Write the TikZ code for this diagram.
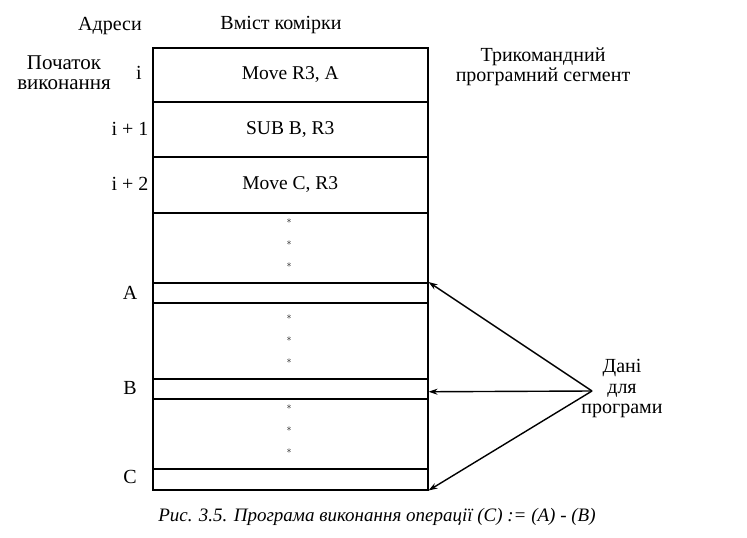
\documentclass[tikz,border=0pt]{standalone}
\usepackage{fontspec}
\setmainfont{Liberation Serif}
\usetikzlibrary{arrows.meta}
\begin{document}
\begin{tikzpicture}[x=1pt,y=-1pt,
  every node/.style={font=\fontsize{20}{21}\selectfont, inner sep=0pt},
  cell/.style={draw, line width=1.5pt, minimum width=275pt, anchor=north west, inner sep=0pt},
  lbl/.style={align=center},
  ast/.style={font=\fontsize{10}{10}\selectfont},
  arr/.style={line width=1.4pt, -{Stealth[length=9pt,width=6pt]}}]
\useasboundingbox (0,0) rectangle (747,538);
% cells
\node[cell, minimum height=54pt, font=\fontsize{19.5}{21}\selectfont] (c1) at (152,47) {Move R3, A};
\node[cell, minimum height=55pt, font=\fontsize{19.5}{21}\selectfont] (c2) at (152,101) {SUB B, R3};
\node[cell, minimum height=56pt, font=\fontsize{19.5}{21}\selectfont] (c3) at (152,156) {Move C, R3};
\node[cell, minimum height=70pt] (d1) at (152,212) {};
\node[cell, minimum height=20pt] (cA) at (152,282) {};
\node[cell, minimum height=76pt] (d2) at (152,302) {};
\node[cell, minimum height=20pt] (cB) at (152,378) {};
\node[cell, minimum height=70pt] (d3) at (152,398) {};
\node[cell, minimum height=21pt] (cC) at (152,468) {};
% asterisks
\node[ast] (s1) at (289,221) {$\ast$};
\node[ast] (s2) at (289,243) {$\ast$};
\node[ast] (s3) at (289,265) {$\ast$};
\node[ast] (s4) at (289,317) {$\ast$};
\node[ast] (s5) at (289,339) {$\ast$};
\node[ast] (s6) at (289,361) {$\ast$};
\node[ast] (s7) at (289,407) {$\ast$};
\node[ast] (s8) at (289,429) {$\ast$};
\node[ast] (s9) at (289,451) {$\ast$};
% headings
\node (adr) at (110,26) {Адреси};
\node (vmist) at (281,25) {Вміст комірки};
\node[lbl, font=\fontsize{21}{20}\selectfont] (poch) at (64,73) {Початок\\виконання};
\node (ai) at (139,73) {i};
\node (ai1) at (130,129) {i + 1};
\node (ai2) at (130,184) {i + 2};
\node (aA) at (130,293) {A};
\node (aB) at (130,388) {B};
\node (aC) at (130,477) {C};
\node[lbl, font=\fontsize{20}{19.5}\selectfont] (tri) at (543,67) {Трикомандний\\програмний сегмент};
\node[lbl, font=\fontsize{20}{20.5}\selectfont] (dani) at (622,389) {Дані\\для\\програми};
\coordinate (apex) at (592,391);
% arrows
\draw[arr] (apex) -- (cA.north east);
\draw[arr] (apex) -- ([yshift=-3pt]cB.east);
\draw[arr] (apex) -- (cC.south east);
% caption
\node[font=\fontsize{19}{20}\selectfont\itshape] (cap) at (377,517) {Рис. 3.5. Програма виконання операції (C) := (A) - (B)};
\end{tikzpicture}
\end{document}
